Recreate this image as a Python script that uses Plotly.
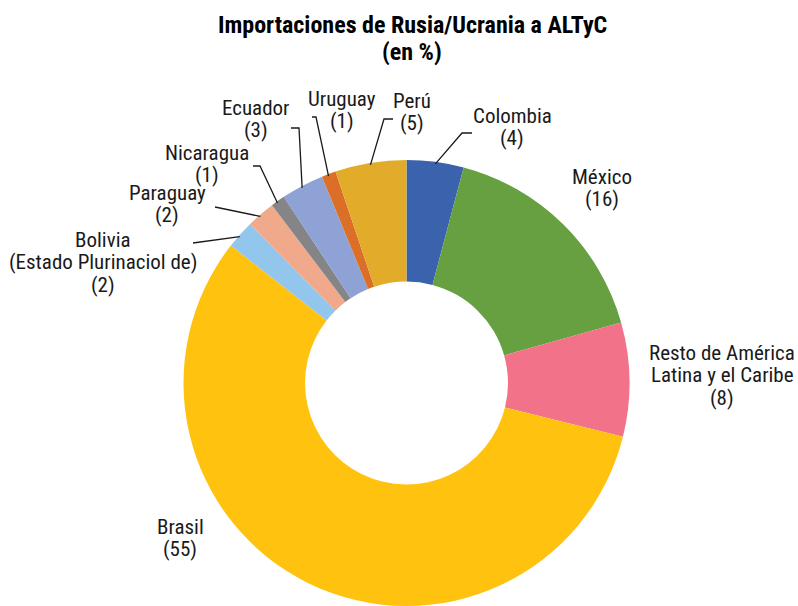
import math
import plotly.graph_objects as go

# ---- data ----
countries = ["Colombia", "México", "Resto de América<br>Latina y el Caribe", "Brasil",
             "Bolivia<br>(Estado Plurinaciol de)", "Paraguay", "Nicaragua", "Ecuador",
             "Uruguay", "Perú"]
shares = [4, 16, 8, 55, 2, 2, 1, 3, 1, 5]
colors = ["#3A62AD", "#66A040", "#F2728A", "#FFC20E", "#93C6EC", "#F0A98B",
          "#858588", "#8FA2D6", "#DC6F28", "#E2AC2A"]
title_lines = ["Importaciones de Rusia/Ucrania a ALTyC", "(en %)"]

# ---- layout/style ----
W, H = 798, 606
CX, CY, R = 406.5, 385.5, 225.5  # pixel center and radius of pie
LINE = 22.5
# label block centers (pixels) and leader-line elbow/end points (pixels)
label_pos = {
    0: (512, 127), 1: (602, 188), 2: (722, 375), 3: (180, 538),
    4: (103, 262), 5: (167, 204), 6: (207, 164), 7: (256, 119),
    8: (342, 110), 9: (412, 112),
}
leader = {
    0: [(462, 133), (472, 133)],
    4: [(193, 243)],
    5: [(215, 207)],
    6: [(260, 166), (253, 166)],
    7: [(299, 128), (291, 128)],
    8: [(316, 117), (312, 117)],
    9: [(384, 119), (393, 119)],
}
FONT = "Roboto Condensed, Liberation Sans Narrow, Roboto, sans-serif"

def px(x, y):
    return x / W, 1 - y / H

fig = go.Figure(go.Pie(
    labels=countries, values=shares, sort=False, direction="clockwise", rotation=0,
    hole=0.455, marker=dict(colors=colors, line=dict(width=0)),
    textinfo="none", showlegend=False, hoverinfo="label+value",
    domain=dict(x=[(CX - R) / W, (CX + R) / W],
                y=[max(0, 1 - (CY + R) / H), 1 - (CY - R) / H]),
))

total = sum(shares)
cum = 0
shapes = []
annotations = []
for i, v in enumerate(shares):
    mid = (cum + v / 2) / total * 2 * math.pi
    cum += v
    lx, ly = label_pos[i]
    lines = countries[i].split("<br>") + [f"({v})"]
    n = len(lines)
    for k, t in enumerate(lines):
        yy = ly + (k - (n - 1) / 2) * LINE
        ax, ay = px(lx, yy)
        annotations.append(dict(
            x=ax, y=ay, xref="paper", yref="paper", showarrow=False, text=t,
            font=dict(family=FONT, size=21, color="#1a1a1a"),
            xanchor="center", yanchor="middle"))
    if i in leader:
        sx = CX + (R - 2) * math.sin(mid)
        sy = CY - (R - 2) * math.cos(mid)
        pts = [(sx, sy)] + leader[i]
        path = "M " + " L ".join(f"{px(a, b)[0]},{px(a, b)[1]}" for a, b in pts)
        shapes.append(dict(type="path", path=path, xref="paper", yref="paper",
                           line=dict(color="#1a1a1a", width=1.3)))

for k, t in enumerate(title_lines):
    ax, ay = px(412, 25 + k * 27)
    annotations.append(dict(
        x=ax, y=ay, xref="paper", yref="paper", showarrow=False,
        text=f"<b>{t}</b>", font=dict(family=FONT, size=24, color="#000"),
        xanchor="center", yanchor="middle"))

fig.update_layout(
    width=W, height=H, margin=dict(l=0, r=0, t=0, b=0),
    paper_bgcolor="white", plot_bgcolor="white",
    shapes=shapes, annotations=annotations,
)
fig.write_html("out.html", config={"displayModeBar": False},
               post_script="document.body.style.margin='0';document.body.style.overflow='hidden';")
